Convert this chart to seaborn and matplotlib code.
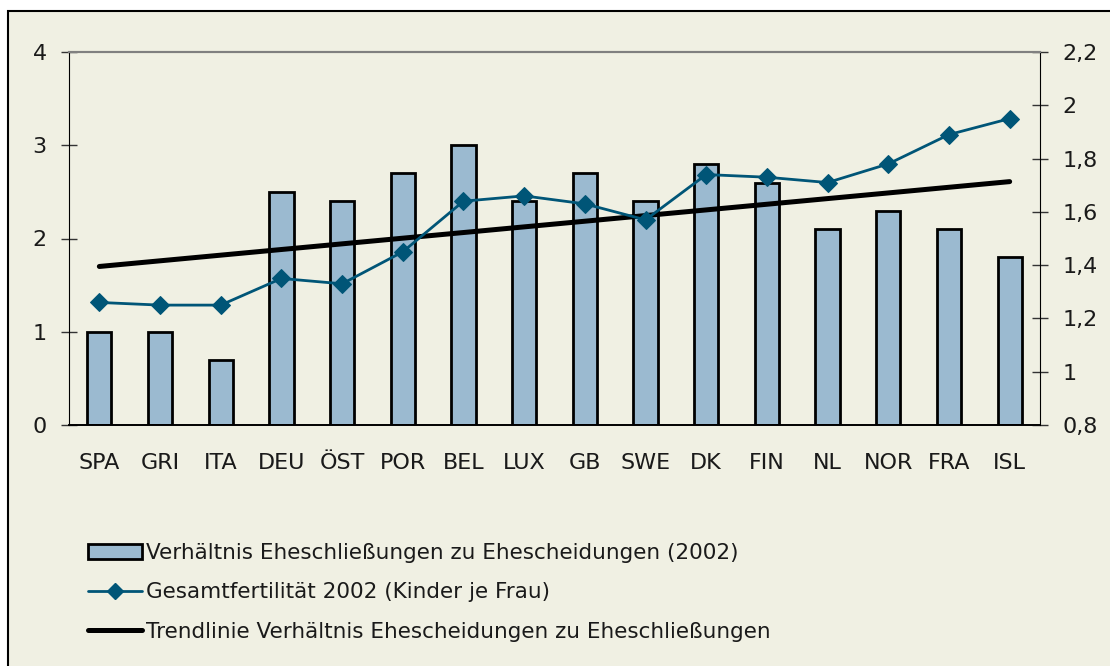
import matplotlib
matplotlib.use("Agg")
import matplotlib.pyplot as plt
import matplotlib.patches as mpatches
import matplotlib.ticker as mticker
from matplotlib.lines import Line2D
import seaborn as sns
import numpy as np
import pandas as pd

# data
countries = ["SPA", "GRI", "ITA", "DEU", "ÖST", "POR", "BEL", "LUX",
             "GB", "SWE", "DK", "FIN", "NL", "NOR", "FRA", "ISL"]
ratio = [1.0, 1.0, 0.7, 2.5, 2.4, 2.7, 3.0, 2.4,
         2.7, 2.4, 2.8, 2.6, 2.1, 2.3, 2.1, 1.8]
fertility = [1.26, 1.25, 1.25, 1.35, 1.33, 1.45, 1.64, 1.66,
             1.63, 1.57, 1.74, 1.73, 1.71, 1.78, 1.89, 1.95]
trend_start = 1.70
trend_end = 2.61

label_bars = "Verhältnis Eheschließungen zu Ehescheidungen (2002)"
label_fert = "Gesamtfertilität 2002 (Kinder je Frau)"
label_trend = "Trendlinie Verhältnis Ehescheidungen zu Eheschließungen"

bg = "#F0F0E3"
bar_color = "#9BBAD0"
line_color = "#005577"
text_color = "#1a1a1a"

sns.set_style("white")
plt.rcParams["font.family"] = ["DejaVu Sans"]
plt.rcParams["text.color"] = text_color
plt.rcParams["xtick.color"] = text_color
plt.rcParams["ytick.color"] = text_color

df = pd.DataFrame({"country": countries, "ratio": ratio,
                   "fertility": fertility, "pos": np.arange(len(countries))})

fig = plt.figure(figsize=(11.1, 6.66), dpi=100, facecolor="white")
fig.patches.append(mpatches.Rectangle((8 / 1110, -0.01), 1.0, 1 - 11 / 666 + 0.01,
                                      transform=fig.transFigure, facecolor=bg,
                                      edgecolor="black", linewidth=1.5, zorder=-10))
ax = fig.add_axes([69 / 1110, 1 - 425 / 666, (1040 - 69) / 1110, (425 - 52) / 666])
ax.set_facecolor("none")

sns.barplot(data=df, x="pos", y="ratio", color=bar_color, width=0.4,
            edgecolor="black", linewidth=2, saturation=1, ax=ax, zorder=2)

# trend line on the primary axis
trend_df = pd.DataFrame({"pos": [0, len(countries) - 1], "val": [trend_start, trend_end]})
sns.lineplot(data=trend_df, x="pos", y="val", color="black", linewidth=3.6,
             solid_capstyle="round", ax=ax, zorder=4)

ax.set_ylim(0, 4)
ax.set_xlim(-0.5, len(countries) - 0.5)
ax.set_yticks([0, 1, 2, 3, 4])
ax.set_xticks(np.arange(len(countries)))
ax.set_xticklabels(countries)
ax.xaxis.set_minor_locator(mticker.FixedLocator(np.arange(-0.5, len(countries), 1)))
ax.tick_params(axis="x", which="major", length=0, pad=20, labelsize=16)
ax.tick_params(axis="x", which="minor", length=12, direction="inout", width=1, color="black")
ax.tick_params(axis="y", length=12, direction="inout", width=1, color="#333333",
               labelsize=16, pad=10)
ax.set_xlabel("")
ax.set_ylabel("")


def comma_fmt(v, pos):
    if abs(v - round(v)) < 1e-6:
        return f"{int(round(v))}"
    return f"{v:.1f}".replace(".", ",")


ax2 = ax.twinx()
sns.lineplot(data=df, x="pos", y="fertility", color=line_color, linewidth=2,
             marker="D", markersize=9.5, markeredgecolor=line_color, ax=ax2, zorder=5)
ax2.set_ylim(0.8, 2.2)
ax2.set_yticks(np.arange(0.8, 2.21, 0.2))
ax2.yaxis.set_major_formatter(mticker.FuncFormatter(comma_fmt))
ax2.tick_params(axis="y", length=12, direction="inout", width=1, color="#333333",
                labelsize=16, pad=10)
ax2.set_ylabel("")

for a in (ax, ax2):
    a.spines["top"].set_color("#808080")
    a.spines["top"].set_linewidth(1.5)
    a.spines["bottom"].set_color("black")
    a.spines["bottom"].set_linewidth(1.2)
    a.spines["left"].set_visible(a is ax)
    a.spines["left"].set_color("black")
    a.spines["right"].set_visible(a is ax2)
    a.spines["right"].set_color("black")

handles = [
    mpatches.Patch(facecolor=bar_color, edgecolor="black", linewidth=2, label=label_bars),
    Line2D([], [], color=line_color, linewidth=2, marker="D", markersize=8.5, label=label_fert),
    Line2D([], [], color="black", linewidth=3.6, label=label_trend),
]
fig.legend(handles=handles, loc="upper left", bbox_to_anchor=(88 / 1110, 1 - 543 / 666),
           frameon=False, fontsize=15.5, handlelength=2.5, handletextpad=0.2,
           labelspacing=0.9, borderaxespad=0, borderpad=0)

fig.savefig("out.png", dpi=100, facecolor="white")
